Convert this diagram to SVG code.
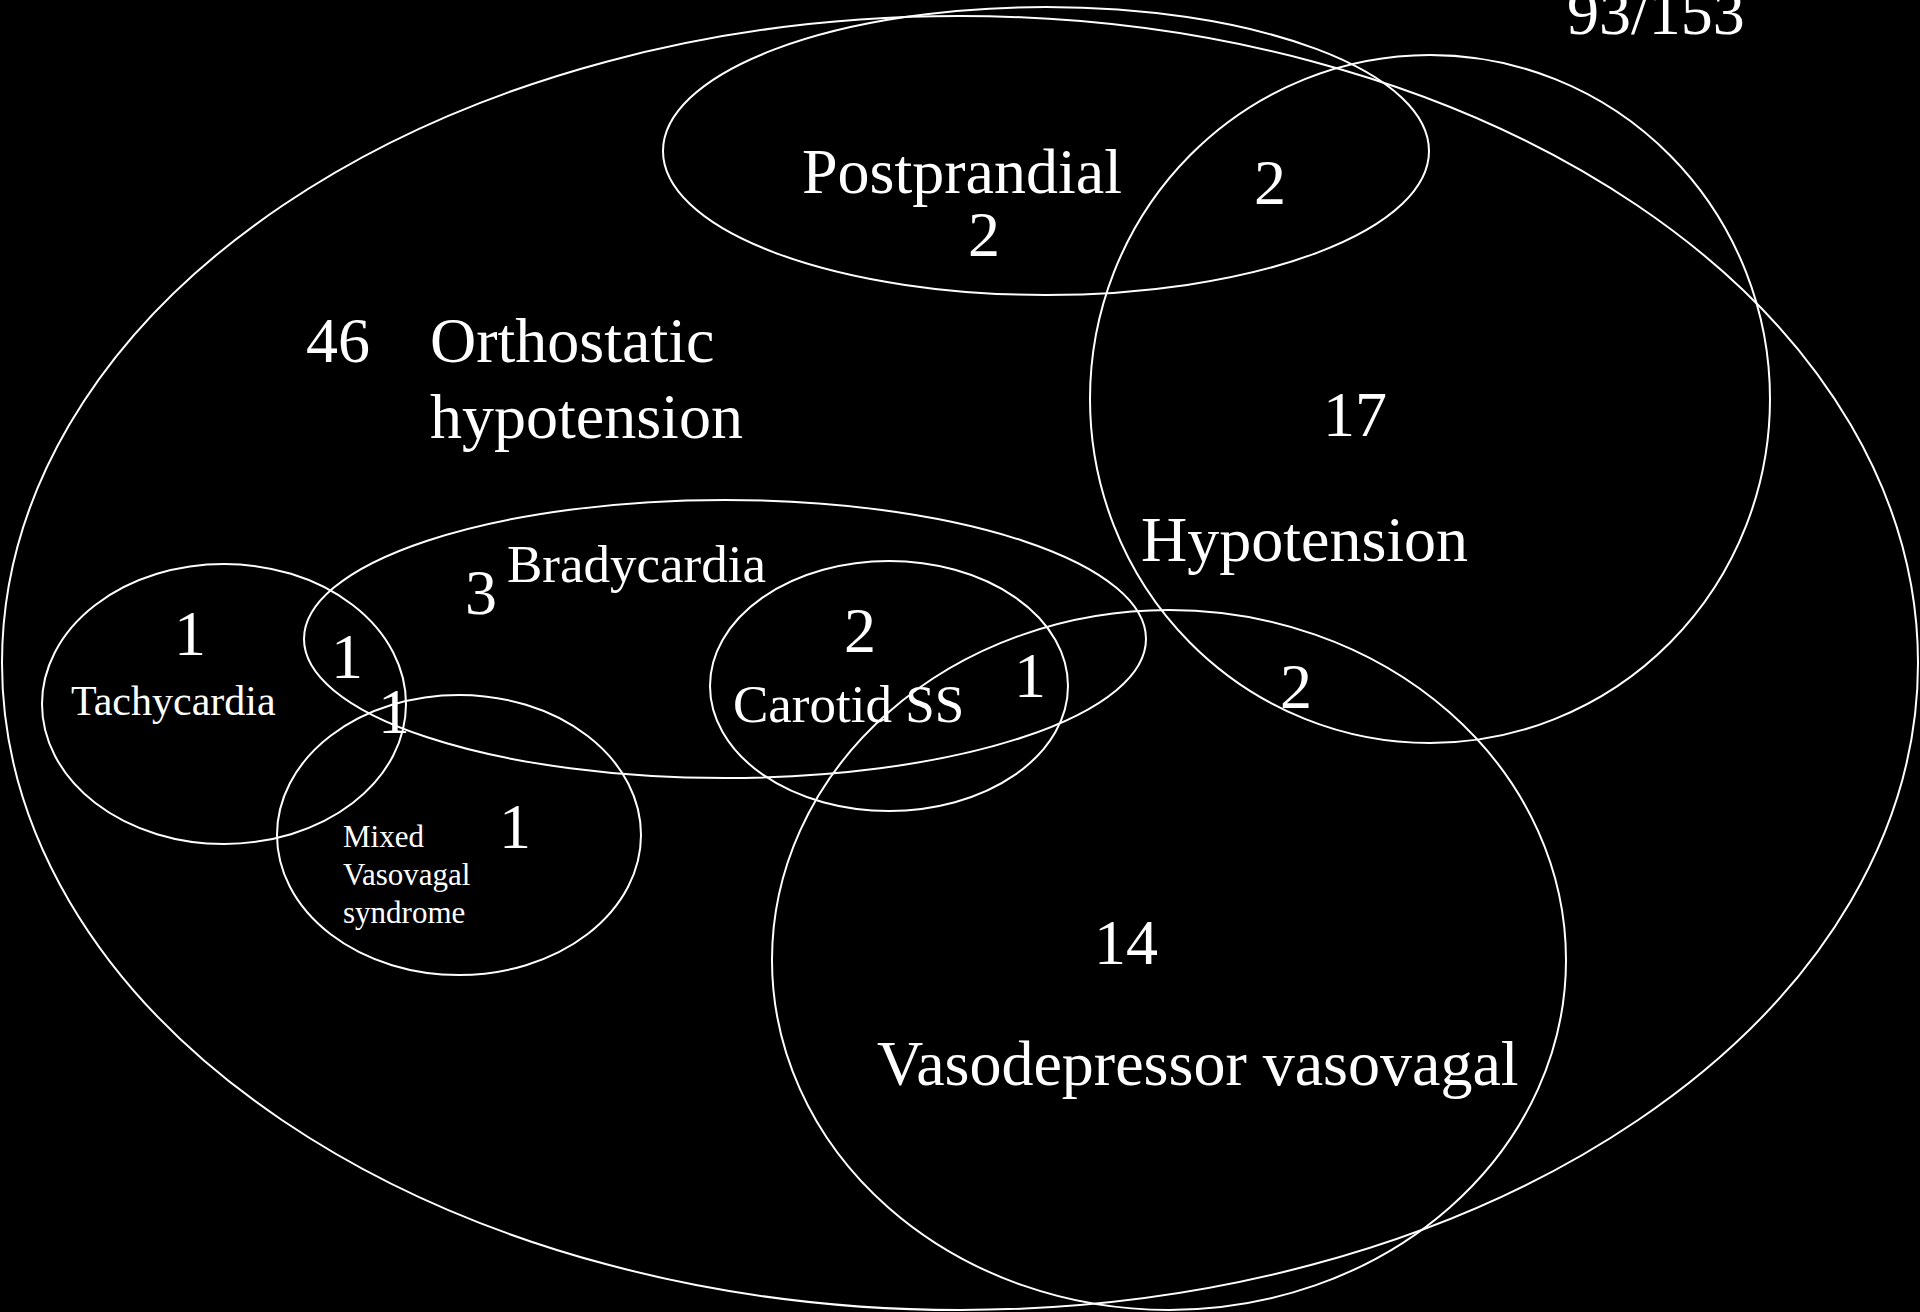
<svg xmlns="http://www.w3.org/2000/svg" width="1920" height="1312" viewBox="0 0 1920 1312">
<style>
.c{fill:none;stroke:#fff;stroke-width:2}
text{fill:#fff;font-family:"Liberation Serif","Times New Roman",serif}
.l{font-size:64px}
.m{font-size:53px}
.s{font-size:42px}
.xs{font-size:31px}
</style>
<rect width="1920" height="1312" fill="#000"/>
<g id="connectors"></g>
<g id="orthostatic"><ellipse class="c" cx="960" cy="663" rx="958" ry="647"/>
<text class="l" x="306" y="362">46</text>
<text class="l" x="430" y="362">Orthostatic</text>
<text class="l" x="430" y="438">hypotension</text></g>
<g id="postprandial"><ellipse class="c" cx="1046" cy="151" rx="383" ry="144"/>
<text class="l" x="802" y="193">Postprandial</text>
<text class="l" x="984" y="256" text-anchor="middle">2</text></g>
<g id="hypotension"><ellipse class="c" cx="1430" cy="399" rx="340" ry="344"/>
<text class="l" x="1270" y="204" text-anchor="middle">2</text>
<text class="l" x="1355" y="436" text-anchor="middle">17</text>
<text class="l" x="1141" y="561">Hypotension</text>
<text class="l" x="1296" y="708" text-anchor="middle">2</text></g>
<g id="bradycardia"><ellipse class="c" cx="725" cy="639" rx="421" ry="139"/>
<text class="m" x="507" y="582">Bradycardia</text>
<text class="l" x="481" y="614" text-anchor="middle">3</text></g>
<g id="tachycardia"><ellipse class="c" cx="224" cy="704" rx="182" ry="140"/>
<text class="l" x="190" y="655" text-anchor="middle">1</text>
<text class="s" x="71" y="715">Tachycardia</text>
<text class="l" x="347" y="678" text-anchor="middle">1</text>
<text class="l" x="394" y="733" text-anchor="middle">1</text></g>
<g id="mixed"><ellipse class="c" cx="459" cy="835" rx="182" ry="140"/>
<text class="l" x="515" y="848" text-anchor="middle">1</text>
<text class="xs" x="343" y="847">Mixed</text>
<text class="xs" x="343" y="885">Vasovagal</text>
<text class="xs" x="343" y="923">syndrome</text></g>
<g id="carotid"><ellipse class="c" cx="889" cy="686" rx="179" ry="125"/>
<text class="l" x="860" y="652" text-anchor="middle">2</text>
<text class="m" x="733" y="722">Carotid SS</text>
<text class="l" x="1030" y="697" text-anchor="middle">1</text></g>
<g id="vasodepressor"><ellipse class="c" cx="1169" cy="960" rx="397" ry="350"/>
<text class="l" x="1126" y="964" text-anchor="middle">14</text>
<text class="l" x="877" y="1085">Vasodepressor vasovagal</text></g>
<g id="total"><text class="l" x="1567" y="34">93/153</text></g>
</svg>
